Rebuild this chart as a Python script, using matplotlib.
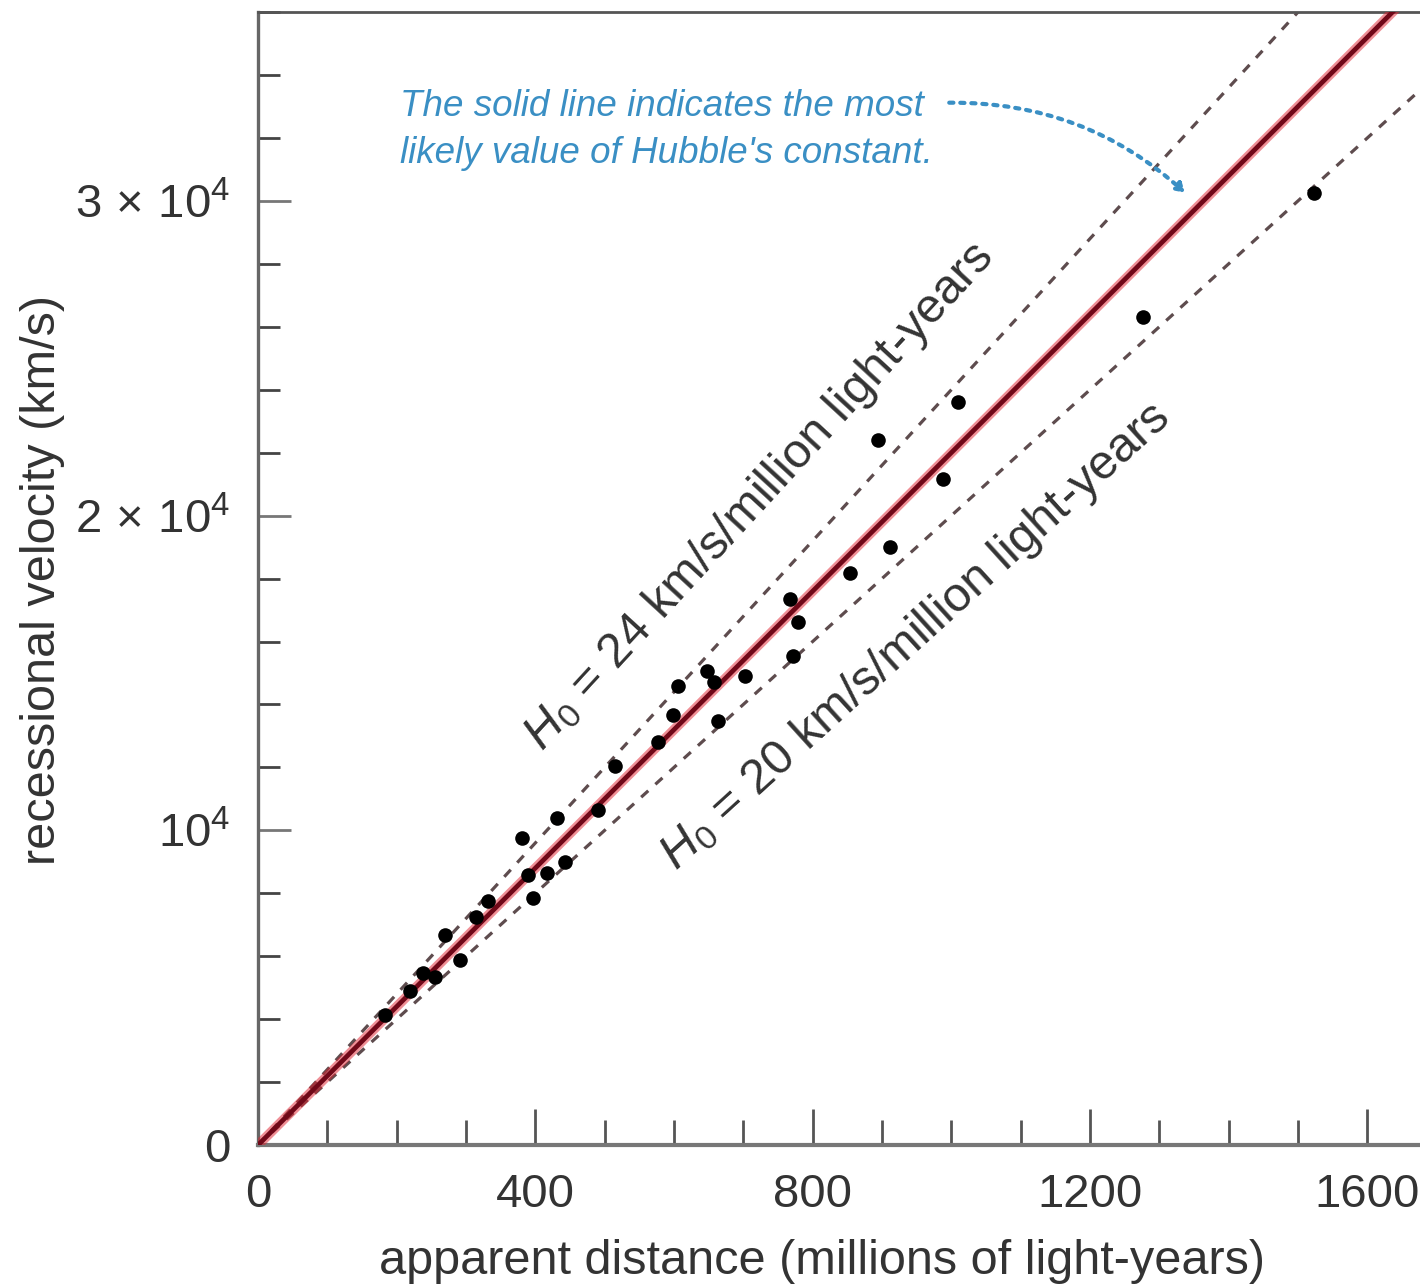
import matplotlib.pyplot as plt
import numpy as np
from matplotlib import font_manager
from matplotlib.ticker import MultipleLocator, FixedLocator, FixedFormatter

# Data
dist = [183, 219, 238, 255, 270, 291, 315, 332, 381, 390, 397, 417, 443, 431,
        491, 515, 577, 599, 606, 648, 658, 664, 703, 768, 779, 772, 854, 894,
        912, 988, 1010, 1277, 1523]
vel = [4140, 4900, 5470, 5350, 6680, 5890, 7260, 7760, 9770, 8590, 7860, 8660,
       9000, 10400, 10660, 12060, 12820, 13680, 14600, 15050, 14700, 13460,
       14890, 17340, 16610, 15530, 18170, 22400, 19000, 21160, 23610, 26320,
       30260]

h0_best = 22
h0_high = 24
h0_low = 20

yticks = [0, 10000, 20000, 30000]
ytick_labels = ['0', r'$10^4$', r'$2\,\times\,10^4$', r'$3\,\times\,10^4$']
xticks = [0, 400, 800, 1200, 1600]

names = {f.name for f in font_manager.fontManager.ttflist}
base = 'Liberation Sans'
plt.rcParams['font.family'] = [base, 'DejaVu Sans']
plt.rcParams['mathtext.fontset'] = 'custom'
plt.rcParams['mathtext.rm'] = base
plt.rcParams['mathtext.it'] = base + ':italic'
plt.rcParams['mathtext.bf'] = base + ':bold'

txt = '#333333'
fig = plt.figure(figsize=(14.2, 12.86), dpi=100)
ax = fig.add_axes([0.1817, 0.1096, 0.8183, 0.881])
ax.set_xlim(0, 1676)
ax.set_ylim(0, 36000)

x = np.array([0, 1700])
ax.plot(x, h0_high * x, ls=(0, (3, 3)), color='#5e4c4e', lw=2.3, zorder=2)
ax.plot(x, h0_low * x, ls=(0, (3, 3)), color='#5e4c4e', lw=2.3, zorder=2)
ax.plot(x, h0_best * x, color='#e0202e', lw=7, alpha=0.5, zorder=3)
ax.plot(x, h0_best * x, color='#700818', lw=3.4, zorder=3)
ax.plot(dist, vel, 'o', color='black', ms=10.5, mew=0, zorder=4)

# axes styling
ax.spines['right'].set_visible(False)
ax.spines['left'].set_color('#666666')
ax.spines['top'].set_color('#555555')
ax.spines['bottom'].set_color('#777777')
ax.spines['left'].set_linewidth(2.4)
ax.spines['top'].set_linewidth(2.0)
ax.spines['bottom'].set_linewidth(3.0)

ax.xaxis.set_major_locator(FixedLocator(xticks))
ax.xaxis.set_minor_locator(MultipleLocator(100))
ax.yaxis.set_major_locator(FixedLocator(yticks))
ax.yaxis.set_major_formatter(FixedFormatter(ytick_labels))
ax.yaxis.set_minor_locator(MultipleLocator(2000))
ax.tick_params(axis='x', which='major', direction='in', length=26, width=2,
               color='#555555', labelsize=34, labelcolor=txt, pad=20)
ax.tick_params(axis='x', which='minor', direction='in', length=18, width=2,
               color='#555555')
ax.tick_params(axis='y', which='major', direction='in', length=24, width=2,
               color='#777777', labelsize=34, labelcolor=txt, pad=20)
ax.tick_params(axis='y', which='minor', direction='in', length=16, width=2,
               color='#444444')
ax.tick_params(top=False, right=False)

fig.text(0.579, 0.0187, 'apparent distance (millions of light-years)',
         ha='center', va='center', fontsize=35, color=txt)
fig.text(0.0296, 0.549, 'recessional velocity (km/s)', rotation=90,
         ha='center', va='center', fontsize=35, color=txt)

# line labels
ax.text(724, 20620, r'$H_0$ = 24 km/s/million light-years', fontsize=35,
        color=txt, ha='center', va='center', rotation=np.degrees(np.arctan(h0_high)),
        rotation_mode='anchor', transform_rotates_text=True)
ax.text(948, 16165, r'$H_0$ = 20 km/s/million light-years', fontsize=35,
        color=txt, ha='center', va='center', rotation=np.degrees(np.arctan(h0_low)),
        rotation_mode='anchor', transform_rotates_text=True)

# blue note
blue = '#3a8fc4'
if 'Liberation Sans Narrow' in names:
    note_fam, note_size = ['Liberation Sans Narrow', base], 31
else:
    note_fam, note_size = [base], 26.5
ax.text(205, 33550, 'The solid line indicates the most\nlikely value of Hubble\'s constant.',
        fontsize=note_size, family=note_fam, style='italic', color=blue,
        ha='left', va='top', linespacing=1.45)
ax.annotate('', xy=(1340, 30200), xytext=(993, 33120),
            arrowprops=dict(arrowstyle='-|>,head_length=0.5,head_width=0.3',
                            ls=':', lw=3, color=blue,
                            connectionstyle='arc3,rad=-0.2'))

fig.savefig('out.png', dpi=100)
